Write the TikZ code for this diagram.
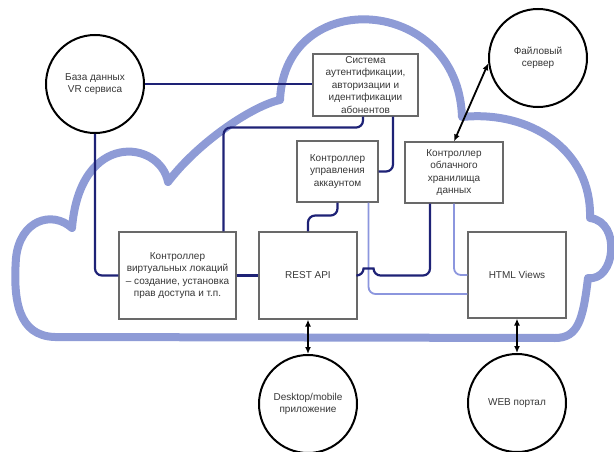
\documentclass[tikz,border=0pt]{standalone}
\usepackage{fontspec}
\setmainfont{Liberation Sans}
\usetikzlibrary{arrows.meta}
\definecolor{cloudc}{RGB}{142,155,214}
\definecolor{navy}{RGB}{30,34,118}
\definecolor{lilac}{RGB}{140,150,222}
\definecolor{boxc}{RGB}{105,105,105}
\definecolor{txt}{RGB}{55,55,55}
\tikzset{ v/.style = { circle
                       , draw = black
                       , fill = white
                       , line width   = 2pt
                       , inner sep    = 0pt
                       , minimum size = 98pt
                       , align        = center
                       , text         = txt
                       },
          box/.style = { rectangle
                       , draw = boxc
                       , fill = white
                       , line width = 1.1pt
                       , inner sep  = 0pt
                       , align      = center
                       , text       = txt
                       },
          lnk/.style = { draw = navy
                       , line width = 2.2pt
                       , rounded corners = 7pt
                       },
          lite/.style = { draw = lilac
                        , line width = 1.8pt
                        , rounded corners = 7pt
                        },
          dbl/.style = { line width = 1.8pt
                       , {Latex[length=7pt,width=6pt]}-{Latex[length=7pt,width=6pt]}
                       },
          cl/.style = { draw = cloudc
                      , line width = 8pt
                      , line join  = round
                      }
        }
\begin{document}
\begin{tikzpicture}[x=1pt, y=-1pt, font=\fontsize{10}{12.5}\selectfont]
    \useasboundingbox (0,0) rectangle (614,452);
    % cloud
    \draw[cl] (72,228) .. controls (52,210) and (20,220) .. (16,258)
              .. controls (13,300) and (18,336) .. (55,337)
              -- (555,338)
              .. controls (578,338) and (583,320) .. (588,278)
              .. controls (615,282) and (622,222) .. (590,218)
              .. controls (592,150) and (530,110) .. (462,117)
              .. controls (458,-5) and (285,-15) .. (280,100)
              .. controls (255,105) and (200,140) .. (168,182)
              .. controls (160,140) and (80,130) .. cycle;
    % outer systems
    \foreach \n/\x/\y/\t in {db/95/84/{База данных\\VR сервиса},
                             fs/538/58/{Файловый\\сервер},
                             app/308/404/{Desktop/mobile\\приложение},
                             web/517/403/{WEB портал}} {
      \node[v] (\n) at (\x,\y) {\t};
    }
    % controllers
    \node[box, minimum width=105pt, minimum height=62pt] (auth) at (365.5,85)
      {Система\\аутентификации,\\авторизации и\\идентификации\\абонентов};
    \node[box, minimum width=81pt, minimum height=61pt] (acc) at (337.5,171.5)
      {Контроллер\\управления\\аккаунтом};
    \node[box, minimum width=98pt, minimum height=61pt] (store) at (454,172.5)
      {Контроллер\\облачного\\хранилища\\данных};
    \node[box, minimum width=117pt, minimum height=87pt] (vloc) at (177.5,275.5)
      {Контроллер\\виртуальных локаций\\– создание, установка\\прав доступа и т.п.};
    \node[box, minimum width=98pt, minimum height=87pt] (rest) at (308,275.5) {REST API};
    \node[box, minimum width=98pt, minimum height=86pt] (html) at (517,275) {HTML Views};
    % links
    \draw[lite] ([xshift=-10pt]acc.south east) |- ([yshift=-19pt]html.west);
    \draw[lite] (store.south) |- (html.west);
    \draw[lnk] (db.east) -- (db.east -| auth.west);
    \draw[lnk] (db.south) |- (vloc.west);
    \draw[lnk] (vloc.east) -- (rest.west);
    \draw[lnk] ([xshift=-13pt]vloc.north east) |- ([xshift=-2.5pt,yshift=-11pt]auth.south)
               -- ([xshift=-2.5pt]auth.south);
    \draw[lnk] ([xshift=27.5pt]auth.south) |- (acc.east);
    \draw[lnk] (acc.south) -- ++(0,13) -| (rest.north);
    \draw[lnk] (rest.east) -- ++(6,0) .. controls +(0,-7) and +(0,-7) .. ++(10,0)
               -| ([xshift=-24pt]store.south);
    \draw[dbl] (rest.south) -- (app.north);
    \draw[dbl] (html.south) -- (web.north);
    \draw[dbl] (store.north) -- (fs.186);
\end{tikzpicture}
\end{document}
